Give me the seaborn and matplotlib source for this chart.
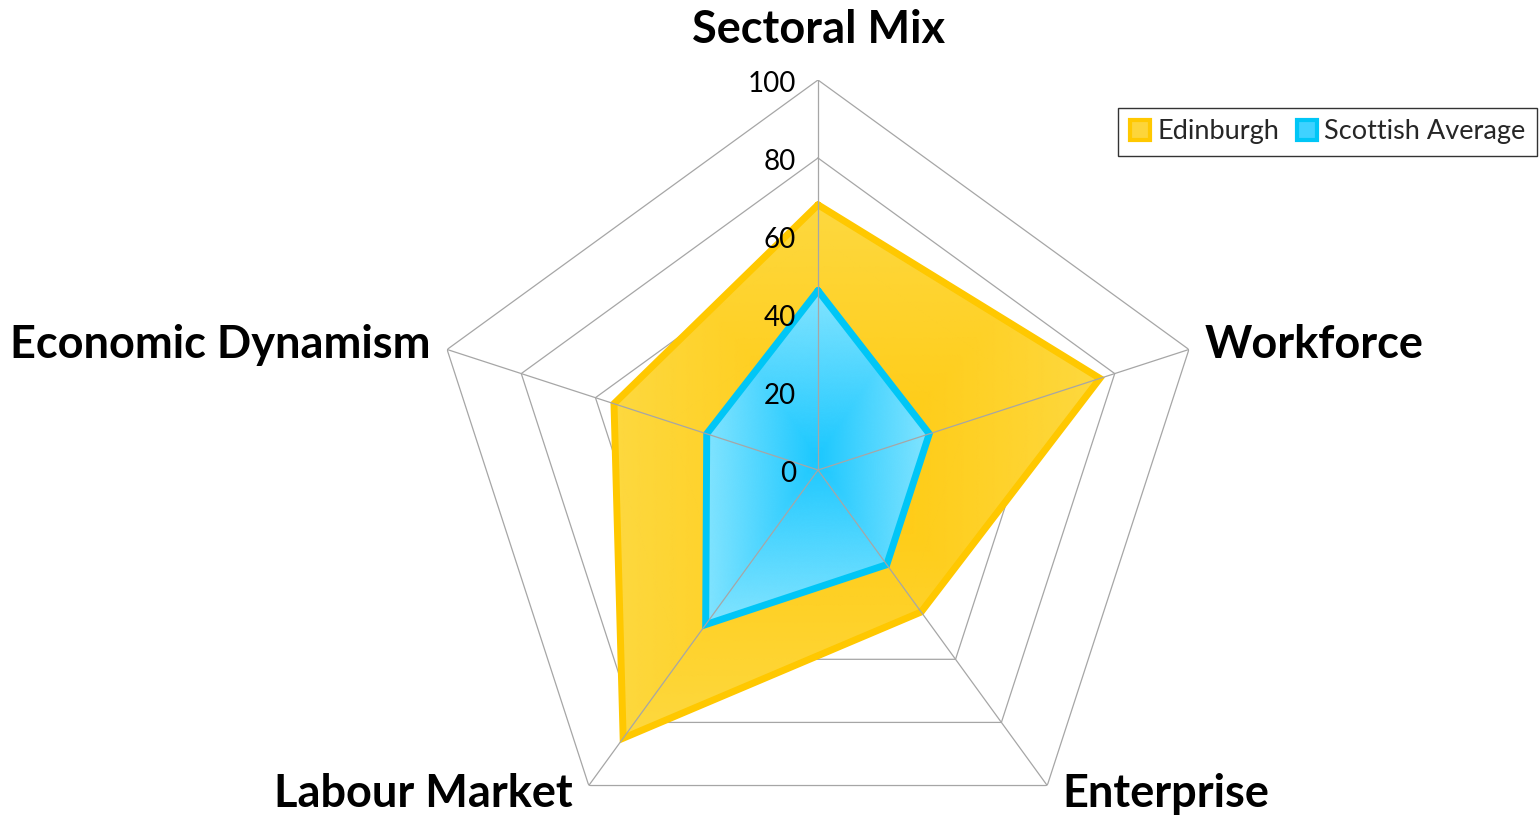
import numpy as np
import pandas as pd
import matplotlib.pyplot as plt
import seaborn as sns
from matplotlib.colors import LinearSegmentedColormap
from matplotlib.lines import Line2D

# ---- data ----
categories = ["Sectoral Mix", "Workforce", "Enterprise", "Labour Market", "Economic Dynamism"]
edinburgh = [68, 76, 45, 85, 55]
scottish_avg = [46, 30, 30, 49, 30]
ring_levels = [20, 40, 60, 80, 100]
tick_values = [0, 20, 40, 60, 80, 100]

# label placement: (offset px from spoke end, ha)
label_offsets = [(0, 37, "center"), (16, -9, "left"), (15, -21, "left"),
                 (-16, -21, "right"), (-17, -9, "right")]

GOLD_EDGE = "#FFC800"
CYAN_EDGE = "#00C6F6"
GRID = "#A6A6A6"
PT = 0.72  # px -> pt at 100 dpi

sns.set_theme(style="white")
plt.rcParams["font.family"] = ["Lato", "DejaVu Sans"]

fig = plt.figure(figsize=(15.39, 8.15), dpi=100)
ax = fig.add_axes([428 / 1539, -45 / 815, 780 / 1539, 780 / 815], projection="polar")
ax.set_theta_zero_location("N")
ax.set_theta_direction(-1)
ax.set_ylim(0, 100)
ax.grid(False)
ax.spines["polar"].set_visible(False)
ax.patch.set_visible(False)

theta = np.linspace(0, 2 * np.pi, len(categories), endpoint=False)
theta_c = np.append(theta, theta[0])

# pentagon rings
for lv in ring_levels:
    ax.plot(theta_c, [lv] * len(theta_c), color=GRID, lw=0.9, zorder=1)


def gradient_fill(values, c_center, c_edge, z):
    r = np.append(values, values[0])
    poly = ax.fill(theta_c, r, facecolor="none", edgecolor="none", zorder=z)[0]
    x = r * np.sin(theta_c)
    y = r * np.cos(theta_c)
    cx, cy = (x.max() + x.min()) / 2, (y.max() + y.min()) / 2
    hx, hy = (x.max() - x.min()) / 2, (y.max() - y.min()) / 2
    T, R = np.meshgrid(np.linspace(0, 2 * np.pi, 361), np.linspace(0, 100, 201))
    X = R * np.sin(T)
    Y = R * np.cos(T)
    D = np.clip(np.maximum(np.abs(X - cx) / hx, np.abs(Y - cy) / hy), 0, 1)
    cmap = LinearSegmentedColormap.from_list("g", [c_center, c_edge])
    mesh = ax.pcolormesh(T, R, D, cmap=cmap, shading="gouraud", vmin=0, vmax=1, zorder=z)
    mesh.set_clip_path(poly)


def outline(values, color, z):
    df = pd.DataFrame({"theta": theta_c, "value": np.append(values, values[0])})
    sns.lineplot(data=df, x="theta", y="value", sort=False, estimator=None,
                 color=color, lw=5, ax=ax, zorder=z, legend=False)
    ax.lines[-1].set_solid_joinstyle("miter")


gradient_fill(edinburgh, "#FFC90E", "#FDD83F", 2)
outline(edinburgh, GOLD_EDGE, 3)
gradient_fill(scottish_avg, "#1CC8FF", "#82E4FF", 4)
outline(scottish_avg, CYAN_EDGE, 5)

# spokes on top
for t in theta:
    ax.plot([t, t], [0, 100], color=GRID, lw=0.9, zorder=10)

ax.set_xlabel("")
ax.set_ylabel("")
ax.set_xticks([])
ax.set_yticks([])
ax.set_ylim(0, 100)

# radial tick labels
for v in tick_values:
    ax.annotate(str(v), xy=(0, v), xytext=(-22 * PT, -12 * PT), textcoords="offset points",
                ha="right", va="baseline", fontsize=20, color="black",
                annotation_clip=False, zorder=11)

# category labels
for t, name, (dx, dy, ha) in zip(theta, categories, label_offsets):
    ax.annotate(name, xy=(t, 100), xytext=(dx * PT, dy * PT), textcoords="offset points",
                ha=ha, va="baseline", fontsize=32.5, fontweight="bold", color="black",
                annotation_clip=False, zorder=11)

handles = [
    Line2D([], [], marker="s", ls="none", markersize=14, markerfacecolor="#FDD53A",
           markeredgecolor=GOLD_EDGE, markeredgewidth=3, label="Edinburgh"),
    Line2D([], [], marker="s", ls="none", markersize=14, markerfacecolor="#3FD2FF",
           markeredgecolor=CYAN_EDGE, markeredgewidth=3, label="Scottish Average"),
]
leg = fig.legend(handles=handles, loc="upper right", bbox_to_anchor=(1537 / 1539, 1 - 108 / 815),
                 ncol=2, fontsize=19.5, frameon=True, fancybox=False, edgecolor="black",
                 handlelength=0.8, handletextpad=0.25, columnspacing=0.6, borderpad=0.42,
                 borderaxespad=0)
leg.get_frame().set_linewidth(1.0)

fig.savefig("out.png", dpi=100)
